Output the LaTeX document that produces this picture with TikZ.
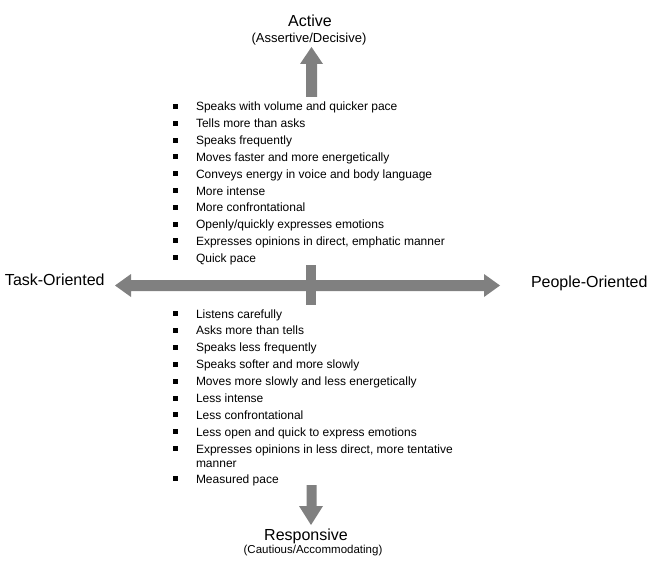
\documentclass[tikz,border=0pt]{standalone}
\usepackage{fontspec}
\setmainfont{Liberation Sans}
\definecolor{arrgray}{RGB}{128,128,128}
\begin{document}
\begin{tikzpicture}[x=1pt, y=-1pt, inner sep=0pt, outer sep=0pt,
	head/.style={font=\fontsize{16}{18}\selectfont, anchor=base},
	sub/.style={font=\fontsize{11.5}{14}\selectfont, anchor=base},
	item/.style={font=\fontsize{12}{14}\selectfont, anchor=base west}]
	
	\useasboundingbox (0,0) rectangle (652,564);
	
	% Mũi tên lên
	\fill[arrgray] (306,97) -- (306,64) -- (300,64) -- (311.5,47)
	-- (323,64) -- (317,64) -- (317,97) -- cycle;
	
	% Mũi tên xuống
	\fill[arrgray] (306.5,485) -- (306.5,506) -- (299,506) -- (311,525)
	-- (323,506) -- (316.5,506) -- (316.5,485) -- cycle;
	
	% Trục ngang hai đầu
	\fill[arrgray] (115,285.5) -- (131,274) -- (131,280) -- (484,280)
	-- (484,274) -- (500,285.5) -- (484,297) -- (484,291) -- (131,291)
	-- (131,297) -- cycle;
	
	% Vạch đứng giữa
	\fill[arrgray] (306,265) rectangle (316,305);
	
	% Nhãn
	\node[head] (act) at (310,27) {Active};
	\node[sub, font=\fontsize{13}{15}\selectfont] (actsub) at (309,43) {(Assertive/Decisive)};
	\node[head] (resp) at (306,540) {Responsive};
	\node[sub] (respsub) at (313,553) {(Cautious/Accommodating)};
	\node[head, anchor=base west] (task) at (5,285) {Task-Oriented};
	\node[head, anchor=base west] (people) at (531,287) {People-Oriented};
	
	% Danh sách trên
	\foreach \t [count=\i] in {Speaks with volume and quicker pace,
		Tells more than asks, Speaks frequently,
		Moves faster and more energetically,
		Conveys energy in voice and body language, More intense,
		More confrontational, Openly/quickly expresses emotions,
		{Expresses opinions in direct, emphatic manner}, Quick pace}{
		\pgfmathsetmacro\yy{111+16.8*(\i-1)}
		\fill (173,\yy-7) rectangle +(5,5);
		\node[item] (up\i) at (196,\yy) {\t};
	}
	
	% Danh sách dưới
	\foreach \t [count=\i] in {Listens carefully, Asks more than tells,
		Speaks less frequently, Speaks softer and more slowly,
		Moves more slowly and less energetically, Less intense,
		Less confrontational, Less open and quick to express emotions,
		{Expresses opinions in less direct, more tentative}}{
		\pgfmathsetmacro\yy{318+16.9*(\i-1)}
		\fill (173,\yy-7) rectangle +(5,5);
		\node[item] (dn\i) at (196,\yy) {\t};
	}
	\node[item] (dn9b) at (196,467) {manner};
	\fill (173,476) rectangle +(5,5);
	\node[item] (dn10) at (196,483) {Measured pace};
	
\end{tikzpicture}
\end{document}
